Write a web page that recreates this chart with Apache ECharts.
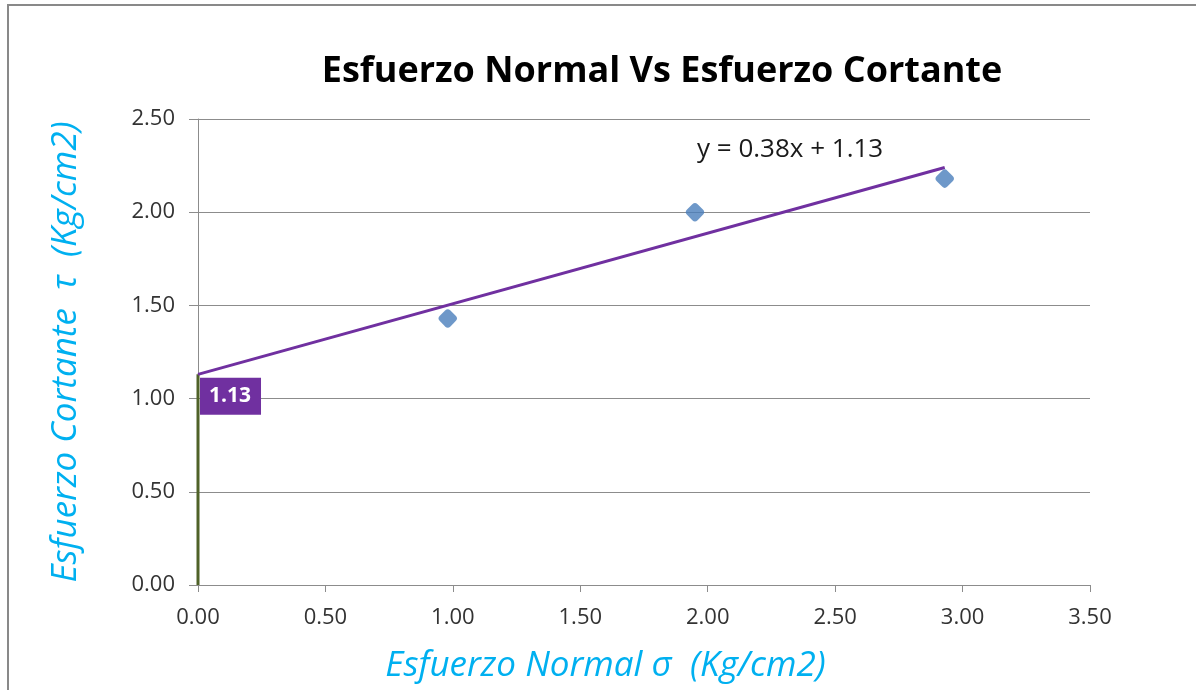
<!DOCTYPE html>
<html>
<head>
<meta charset="utf-8">
<script src="https://cdn.jsdelivr.net/npm/echarts@6/dist/echarts.min.js"></script>
<style>
  html, body { margin: 0; padding: 0; background: #ffffff; }
  #chart { width: 1196px; height: 690px; }
</style>
</head>
<body>
<div id="chart"></div>
<script>
// Measured normal / shear stress pairs (Kg/cm2)
const normalStress = [0.98, 1.95, 2.93];
const shearStress = [1.43, 2.00, 2.18];

// Linear trend line: y = 0.38x + 1.13, drawn between its end points
const trendX = [0.00, 2.93];
const trendY = [1.13, 2.24];
const intercept = 1.13;
const equationText = 'y = 0.38x + 1.13';

// Axis ticks
const xTicks = ['0.00', '0.50', '1.00', '1.50', '2.00', '2.50', '3.00', '3.50'];
const yTicks = ['0.00', '0.50', '1.00', '1.50', '2.00', '2.50'];

const FONT = '"Open Sans", "Noto Sans", sans-serif';
const axisNameColor = '#00B0F0';
const tickColor = '#333333';
const gridColor = '#8c8c8c';

const points = normalStress.map((x, i) => [x, shearStress[i]]);
const trend = trendX.map((x, i) => [x, trendY[i]]);

const chart = echarts.init(document.getElementById('chart'), null, { renderer: 'canvas' });

chart.setOption({
  backgroundColor: '#ffffff',
  animation: false,
  title: {
    text: 'Esfuerzo Normal Vs Esfuerzo Cortante',
    left: 657,
    textAlign: 'center',
    top: 49,
    textStyle: { fontFamily: FONT, fontWeight: 'bold', fontSize: 36, color: '#000000' }
  },
  graphic: [
    {
      type: 'rect',
      shape: { x: 8, y: 5, width: 1300, height: 800 },
      style: { fill: 'none', stroke: '#898989', lineWidth: 2 },
      silent: true
    },
    {
      type: 'text',
      left: 697,
      top: 137,
      style: { text: equationText, fontFamily: FONT, fontSize: 26, fill: '#1a1a1a' }
    }
  ],
  grid: { left: 198, right: 106, top: 119, bottom: 105 },
  xAxis: {
    type: 'value',
    min: 0,
    max: 3.5,
    interval: 0.5,
    name: 'Esfuerzo Normal σ  (Kg/cm2)',
    nameLocation: 'middle',
    nameGap: 64,
    nameTextStyle: {
      fontFamily: FONT, fontStyle: 'italic', fontSize: 35, color: axisNameColor,
      padding: [0, 77, 0, 0]
    },
    axisLine: { show: true, onZero: false, lineStyle: { color: gridColor, width: 1 } },
    axisTick: { show: true, length: 7, lineStyle: { color: gridColor } },
    axisLabel: {
      margin: 22,
      fontFamily: FONT,
      fontSize: 22,
      color: tickColor,
      formatter: (v) => xTicks[Math.round(v / 0.5)]
    },
    splitLine: { show: false }
  },
  yAxis: {
    type: 'value',
    min: 0,
    max: 2.5,
    interval: 0.5,
    name: 'Esfuerzo Cortante  τ  (Kg/cm2)',
    nameLocation: 'middle',
    nameGap: 114,
    nameTextStyle: { fontFamily: FONT, fontStyle: 'italic', fontSize: 35, color: axisNameColor },
    axisLine: { show: true, onZero: false, lineStyle: { color: gridColor, width: 1 } },
    axisTick: { show: true, length: 9, lineStyle: { color: gridColor } },
    axisLabel: {
      margin: 23,
      fontFamily: FONT,
      fontSize: 22,
      color: tickColor,
      formatter: (v) => yTicks[Math.round(v / 0.5)]
    },
    splitLine: { show: true, lineStyle: { color: gridColor, width: 1 } }
  },
  series: [
    {
      name: 'Intercepto',
      type: 'line',
      data: [[0, 0], [0, intercept]],
      symbol: 'none',
      lineStyle: { color: '#4f6228', width: 3 },
      z: 3,
      endLabel: {
        show: true,
        formatter: () => intercept.toFixed(2),
        backgroundColor: '#7030a0',
        color: '#ffffff',
        fontFamily: FONT,
        fontWeight: 'bold',
        fontSize: 21,
        padding: [9, 10, 7, 9],
        distance: 0,
        offset: [2, 22]
      }
    },
    {
      name: 'Tendencia',
      type: 'line',
      data: trend,
      symbol: 'none',
      lineStyle: { color: '#7030a0', width: 3 },
      z: 4
    },
    {
      name: 'Datos',
      type: 'scatter',
      data: points,
      symbol: 'roundRect',
      symbolSize: 15,
      symbolRotate: 45,
      itemStyle: { color: '#4a7ebb' },
      z: 5
    }
  ]
});
</script>
</body>
</html>
